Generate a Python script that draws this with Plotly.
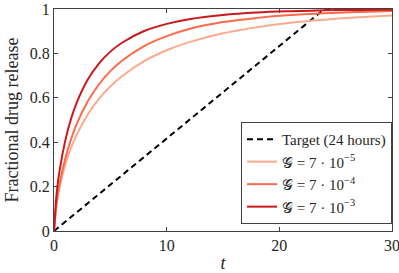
import plotly.graph_objects as go

# time points (hours)
t = [0, 0.25, 0.5, 1, 1.5, 2, 3, 4, 5, 6, 8, 10, 12, 15, 18, 21, 24, 27, 30]

# fractional release
release_g5 = [0, 0.129, 0.199, 0.298, 0.373, 0.432, 0.525, 0.596, 0.651, 0.696, 0.765,
              0.814, 0.851, 0.891, 0.918, 0.938, 0.952, 0.963, 0.971]
release_g4 = [0, 0.134, 0.213, 0.326, 0.411, 0.480, 0.584, 0.661, 0.720, 0.766, 0.833,
              0.878, 0.910, 0.941, 0.960, 0.973, 0.981, 0.987, 0.991]
release_g3 = [0, 0.177, 0.273, 0.407, 0.503, 0.576, 0.682, 0.755, 0.808, 0.847, 0.901,
              0.933, 0.954, 0.973, 0.984, 0.990, 0.994, 0.996, 0.997]

target_t = [0, 24, 30]
target_v = [0, 1, 1]

labels = ["Target (24 hours)",
          "𝒢 = 7 · 10<sup>−5</sup>",
          "𝒢 = 7 · 10<sup>−4</sup>",
          "𝒢 = 7 · 10<sup>−3</sup>"]
colors = ["#FCAA8E", "#FB6A4A", "#CB181D"]

FONT = "Liberation Serif"

fig = go.Figure()
fig.add_trace(go.Scatter(x=target_t, y=target_v, mode="lines", name=labels[0],
                         line=dict(color="black", width=2, dash="6px,4px")))
for vals, lab, col in zip([release_g5, release_g4, release_g3], labels[1:], colors):
    fig.add_trace(go.Scatter(x=t, y=vals, mode="lines", name=lab,
                             line=dict(color=col, width=2, shape="spline")))

axis_common = dict(showline=True, linecolor="#404040", linewidth=1, mirror="ticks",
                   ticks="inside", ticklen=4, tickcolor="#404040", showgrid=False,
                   zeroline=False, automargin=False, ticklabeloverflow="allow",
                   tickfont=dict(family=FONT, size=16, color="#262626"))

fig.update_layout(
    width=399, height=273,
    margin=dict(l=54, r=7, t=9, b=42),
    paper_bgcolor="white", plot_bgcolor="white",
    font=dict(family=FONT, size=16, color="#262626"),
    xaxis=dict(range=[0, 30], tickvals=[0, 10, 20, 30],
               title=dict(text="<i>t</i>", font=dict(family=FONT, size=18), standoff=5),
               **axis_common),
    yaxis=dict(range=[0, 1], tickvals=[0, 0.2, 0.4, 0.6, 0.8, 1],
               title=dict(text="Fractional drug release", font=dict(family=FONT, size=18), standoff=6),
               **axis_common),
    legend=dict(x=1.0, y=0.032, xanchor="right", yanchor="bottom",
                bgcolor="white", bordercolor="#404040", borderwidth=1,
                font=dict(family=FONT, size=15, color="#262626"),
                itemwidth=30, tracegroupgap=0),
    showlegend=True,
)

fig.write_html("out.html", config={"displayModeBar": False},
               post_script="document.body.style.margin='0';")
